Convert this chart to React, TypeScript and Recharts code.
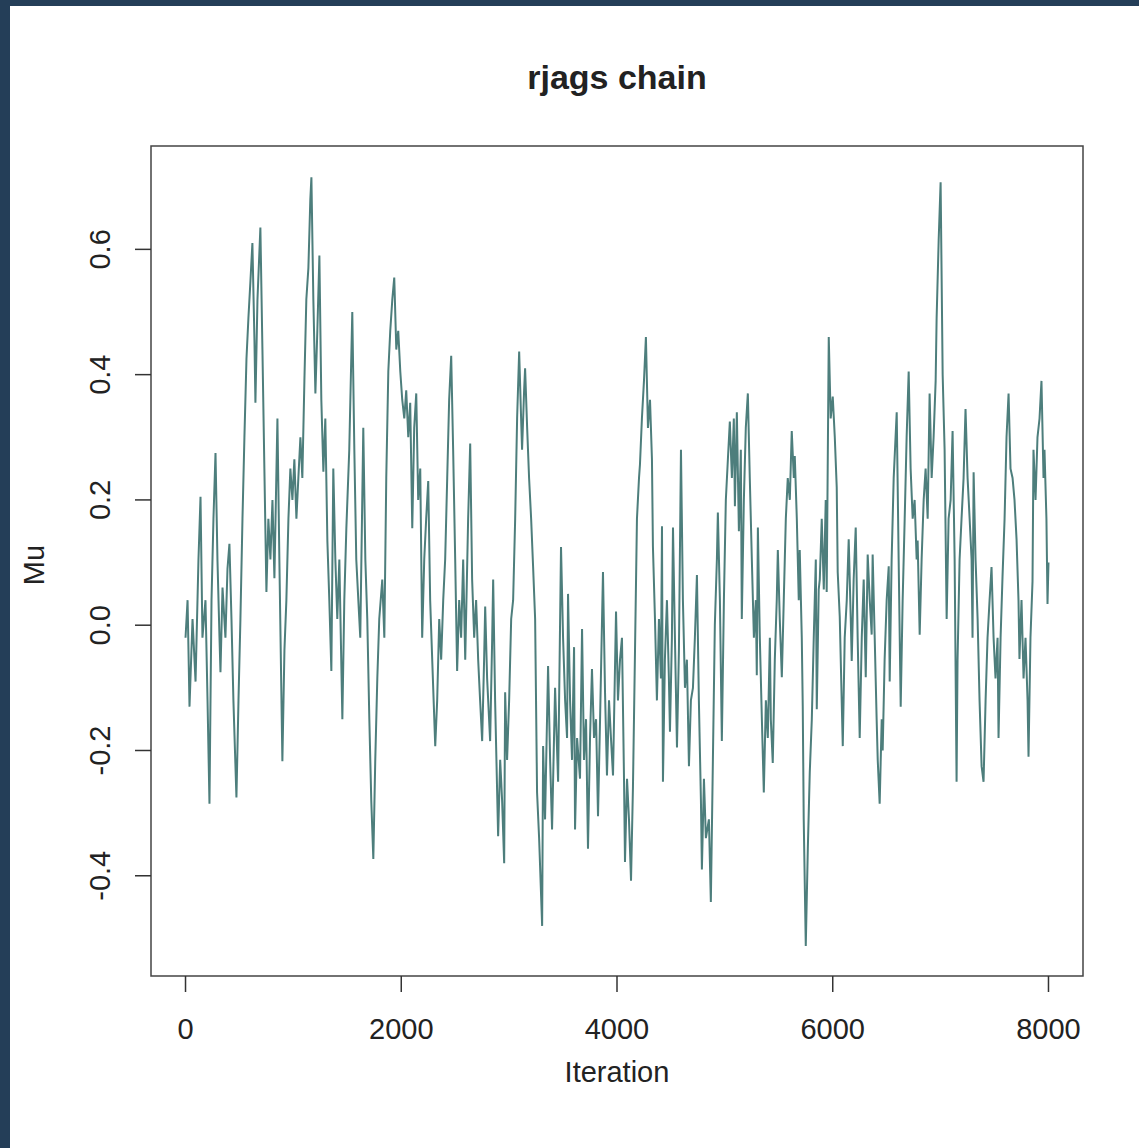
import { LineChart, Line, XAxis, YAxis, ReferenceArea } from 'recharts';

// MCMC trace of Mu as [iteration, value]
const chartTitle = 'rjags chain';

const trace0to2000: [number, number][] = [
  [0, -0.02], [19, 0.04], [37, -0.13], [65, 0.01], [93, -0.09], [120, 0.105], [139, 0.205], [157, -0.02],
  [185, 0.04], [204, -0.12], [222, -0.285], [241, 0.04], [259, 0.17], [278, 0.275], [296, 0.105], [315, -0.02],
  [324, -0.075], [343, 0.06], [370, -0.02], [389, 0.09], [407, 0.13], [426, 0.01], [444, -0.12], [472, -0.275],
  [491, -0.12], [509, 0.01], [528, 0.17], [546, 0.3], [565, 0.425], [583, 0.49], [602, 0.55], [620, 0.61],
  [639, 0.455], [648, 0.355], [667, 0.52], [694, 0.635], [713, 0.44], [731, 0.25], [750, 0.053], [768, 0.17],
  [787, 0.105], [806, 0.2], [824, 0.075], [852, 0.33], [870, 0.105], [898, -0.217], [917, -0.04], [935, 0.04],
  [954, 0.17], [972, 0.25], [991, 0.2], [1009, 0.265], [1028, 0.17], [1046, 0.235], [1065, 0.3], [1083, 0.235],
  [1102, 0.39], [1120, 0.52], [1139, 0.57], [1157, 0.68], [1167, 0.715], [1185, 0.52], [1204, 0.37], [1222, 0.47],
  [1241, 0.59], [1259, 0.36], [1278, 0.245], [1296, 0.33], [1315, 0.135], [1333, 0.04], [1352, -0.073], [1370, 0.25],
  [1389, 0.105], [1407, 0.01], [1426, 0.105], [1454, -0.15], [1472, 0.04], [1491, 0.155], [1518, 0.28], [1546, 0.5],
  [1565, 0.28], [1583, 0.105], [1602, 0.04], [1620, -0.02], [1648, 0.315], [1667, 0.105], [1685, 0.01], [1704, -0.15],
  [1722, -0.28], [1741, -0.373], [1759, -0.215], [1778, -0.085], [1796, 0.01], [1824, 0.073], [1843, -0.02], [1861, 0.235],
  [1880, 0.405], [1898, 0.47], [1917, 0.52], [1935, 0.555], [1954, 0.44], [1972, 0.47], [1991, 0.405],
];

const trace2000to4000: [number, number][] = [
  [2009, 0.36], [2028, 0.33], [2046, 0.375], [2065, 0.3], [2083, 0.355], [2102, 0.155], [2120, 0.315], [2139, 0.37],
  [2157, 0.2], [2176, 0.25], [2194, -0.02], [2213, 0.105], [2231, 0.17], [2250, 0.23], [2268, 0.04], [2287, -0.055],
  [2315, -0.193], [2333, -0.12], [2352, 0.01], [2370, -0.055], [2389, 0.04], [2407, 0.105], [2426, 0.235], [2444, 0.36],
  [2463, 0.43], [2481, 0.28], [2500, 0.105], [2518, -0.073], [2537, 0.04], [2555, -0.02], [2574, 0.105], [2593, -0.055],
  [2620, 0.17], [2639, 0.29], [2657, 0.073], [2676, -0.02], [2694, 0.04], [2713, -0.055], [2731, -0.12], [2750, -0.185],
  [2768, -0.055], [2778, 0.03], [2796, -0.085], [2824, -0.185], [2843, -0.02], [2852, 0.073], [2870, -0.12], [2898, -0.337],
  [2917, -0.215], [2935, -0.28], [2954, -0.38], [2963, -0.107], [2981, -0.215], [3000, -0.12], [3019, 0.01], [3037, 0.04],
  [3056, 0.17], [3074, 0.33], [3093, 0.437], [3111, 0.33], [3120, 0.28], [3139, 0.375], [3148, 0.41], [3167, 0.315],
  [3185, 0.235], [3204, 0.17], [3222, 0.094], [3241, 0.01], [3259, -0.267], [3278, -0.34], [3306, -0.48], [3315, -0.193],
  [3333, -0.31], [3361, -0.065], [3380, -0.215], [3398, -0.326], [3426, -0.1], [3454, -0.25], [3481, 0.125], [3500, -0.02],
  [3519, -0.12], [3537, -0.18], [3546, 0.05], [3565, -0.12], [3583, -0.215], [3602, -0.035], [3611, -0.326], [3630, -0.18],
  [3657, -0.245], [3676, -0.006], [3694, -0.215], [3713, -0.15], [3731, -0.357], [3750, -0.18], [3768, -0.07], [3787, -0.18],
  [3806, -0.15], [3824, -0.305], [3843, -0.15], [3870, 0.085], [3889, -0.107], [3907, -0.24], [3926, -0.12], [3944, -0.18],
  [3963, -0.24], [3991, 0.022],
];

const trace4000to6000: [number, number][] = [
  [4009, -0.12], [4028, -0.055], [4046, -0.02], [4065, -0.245], [4074, -0.378], [4093, -0.245], [4111, -0.31], [4130, -0.408],
  [4148, -0.257], [4167, -0.04], [4185, 0.17], [4204, 0.235], [4213, 0.257], [4231, 0.33], [4250, 0.39], [4268, 0.46],
  [4287, 0.315], [4306, 0.36], [4324, 0.265], [4333, 0.126], [4352, 0.01], [4370, -0.12], [4389, 0.01], [4407, -0.085],
  [4417, 0.158], [4426, -0.25], [4444, -0.055], [4463, 0.04], [4481, -0.085], [4491, -0.17], [4509, -0.02], [4519, 0.156],
  [4537, -0.02], [4556, -0.195], [4574, -0.04], [4593, 0.28], [4611, 0.04], [4630, -0.1], [4648, -0.055], [4667, -0.225],
  [4685, -0.12], [4704, -0.1], [4722, -0.02], [4741, 0.08], [4759, -0.12], [4778, -0.28], [4787, -0.39], [4806, -0.245],
  [4824, -0.34], [4852, -0.31], [4870, -0.442], [4889, -0.215], [4907, 0], [4926, 0.105], [4935, 0.18], [4954, 0.04],
  [4972, -0.185], [4991, 0.04], [5009, 0.2], [5028, 0.265], [5046, 0.325], [5065, 0.235], [5083, 0.33], [5093, 0.19],
  [5111, 0.34], [5130, 0.15], [5148, 0.28], [5157, 0.01], [5176, 0.2], [5194, 0.315], [5213, 0.37], [5231, 0.235],
  [5250, 0.105], [5269, -0.02], [5287, 0.04], [5296, -0.08], [5306, 0.156], [5324, -0.02], [5343, -0.15], [5361, -0.267],
  [5380, -0.12], [5398, -0.18], [5417, -0.02], [5426, -0.15], [5444, -0.22], [5463, -0.055], [5481, 0.04], [5491, 0.12],
  [5509, 0.01], [5528, -0.083], [5546, 0.04], [5565, 0.17], [5583, 0.235], [5602, 0.2], [5620, 0.31], [5639, 0.235],
  [5648, 0.27], [5667, 0.17], [5685, 0.04], [5694, 0.12], [5713, -0.02], [5722, -0.13], [5731, -0.31], [5750, -0.512],
  [5769, -0.357], [5787, -0.235], [5806, -0.15], [5824, -0.02], [5843, 0.105], [5852, -0.134], [5870, 0.057], [5880, 0.073],
  [5898, 0.17], [5917, 0.057], [5935, 0.2], [5944, 0.053], [5963, 0.46], [5981, 0.33],
];

const trace6000to8000: [number, number][] = [
  [6000, 0.365], [6019, 0.3], [6037, 0.22], [6046, 0.085], [6065, 0.013], [6083, -0.12], [6093, -0.193], [6111, -0.02],
  [6130, 0.04], [6148, 0.137], [6167, 0.01], [6176, -0.057], [6194, 0.073], [6213, 0.156], [6231, -0.02], [6250, -0.18],
  [6269, -0.02], [6287, 0.073], [6306, -0.083], [6324, 0.113], [6343, 0.04], [6361, -0.015], [6370, 0.113], [6389, -0.02],
  [6407, -0.15], [6417, -0.215], [6435, -0.285], [6454, -0.15], [6463, -0.2], [6481, -0.055], [6500, 0.04], [6519, 0.094],
  [6528, -0.09], [6546, 0.105], [6565, 0.235], [6593, 0.34], [6611, 0.105], [6630, -0.13], [6648, 0.04], [6667, 0.17],
  [6685, 0.3], [6704, 0.405], [6722, 0.25], [6741, 0.17], [6759, 0.2], [6778, 0.105], [6787, 0.135], [6806, -0.015],
  [6824, 0.105], [6843, 0.2], [6861, 0.25], [6880, 0.17], [6898, 0.37], [6917, 0.235], [6935, 0.3], [6954, 0.39],
  [6963, 0.49], [6982, 0.615], [7000, 0.707], [7019, 0.4], [7037, 0.28], [7056, 0.01], [7074, 0.17], [7093, 0.2],
  [7111, 0.31], [7130, 0.105], [7148, -0.25], [7157, -0.055], [7176, 0.105], [7194, 0.17], [7213, 0.235], [7231, 0.345],
  [7250, 0.235], [7269, 0.17], [7287, 0.105], [7296, -0.02], [7306, 0.244], [7324, 0.105], [7343, 0.01], [7361, -0.12],
  [7380, -0.225], [7398, -0.25], [7417, -0.12], [7435, -0.02], [7454, 0.04], [7472, 0.093], [7491, -0.02], [7509, -0.085],
  [7528, -0.02], [7537, -0.18], [7556, -0.02], [7574, 0.078], [7593, 0.17], [7611, 0.3], [7630, 0.37], [7648, 0.25],
  [7667, 0.235], [7685, 0.2], [7704, 0.137], [7722, 0.04], [7731, -0.054], [7750, 0.04], [7769, -0.085], [7787, -0.02],
  [7806, -0.12], [7815, -0.21], [7833, -0.02], [7852, 0.07], [7861, 0.28], [7880, 0.2], [7898, 0.3], [7917, 0.33],
  [7935, 0.39], [7954, 0.235], [7963, 0.28], [7981, 0.17], [7991, 0.034], [8000, 0.1],
];

const xTicks = [0, 2000, 4000, 6000, 8000];
const yTicks = [-0.4, -0.2, 0, 0.2, 0.4, 0.6];

const data = [...trace0to2000, ...trace2000to4000, ...trace4000to6000, ...trace6000to8000].map(
  ([iteration, mu]) => ({ iteration, mu })
);

const FONT = '"Liberation Sans", Arial, Helvetica, sans-serif';
const INK = '#222';

const YTick = ({ x, y, payload }: any) => (
  <text
    x={x - 25}
    y={y}
    transform={`rotate(-90 ${x - 25} ${y})`}
    textAnchor="middle"
    fill={INK}
    fontSize={29}
    fontFamily={FONT}
  >
    {Number(payload.value).toFixed(1)}
  </text>
);

const MuLabel = ({ viewBox }: any) => {
  const cx = viewBox.x + 34;
  const cy = viewBox.y + viewBox.height / 2 + 4;
  return (
    <text
      x={cx}
      y={cy}
      transform={`rotate(-90 ${cx} ${cy})`}
      textAnchor="middle"
      dominantBaseline="central"
      fill={INK}
      fontSize={29}
      fontFamily={FONT}
    >
      Mu
    </text>
  );
};

export default function App() {
  return (
    <div
      style={{
        position: 'absolute',
        left: 0,
        top: 0,
        width: 1139,
        height: 1148,
        background: '#fff',
        overflow: 'hidden',
        fontFamily: FONT,
      }}
    >
      <div style={{ position: 'absolute', left: 0, top: 0, width: 10, height: 1148, background: '#243e58' }} />
      <div style={{ position: 'absolute', left: 0, top: 0, width: 1139, height: 6, background: '#243e58' }} />
      <div
        style={{
          position: 'absolute',
          left: 151,
          width: 932,
          top: 58,
          textAlign: 'center',
          fontSize: 34,
          fontWeight: 'bold',
          color: INK,
        }}
      >
        {chartTitle}
      </div>
      <LineChart
        width={1139}
        height={1148}
        data={data}
        margin={{ top: 146, right: 56, left: 0, bottom: 0 }}
        style={{ position: 'absolute', left: 0, top: 0 }}
      >
        <XAxis
          type="number"
          dataKey="iteration"
          domain={[-320, 8320]}
          ticks={xTicks}
          height={172}
          axisLine={false}
          tickLine={{ stroke: '#333', strokeWidth: 1.5 }}
          tickSize={16}
          tickMargin={26}
          tick={{ fill: INK, fontSize: 29, fontFamily: FONT }}
          label={{ value: 'Iteration', position: 'insideBottom', offset: 66, fill: INK, fontSize: 29, fontFamily: FONT }}
        />
        <YAxis
          type="number"
          domain={[-0.56, 0.765]}
          ticks={yTicks}
          width={151}
          axisLine={false}
          tickLine={{ stroke: '#333', strokeWidth: 1.5 }}
          tickSize={16}
          tickMargin={0}
          tick={<YTick />}
          label={<MuLabel />}
        />
        <Line
          type="linear"
          dataKey="mu"
          stroke="#4d7e7c"
          strokeWidth={2}
          dot={false}
          isAnimationActive={false}
        />
        <ReferenceArea
          x1={-320}
          x2={8320}
          y1={-0.56}
          y2={0.765}
          fill="none"
          stroke="#444"
          strokeWidth={1.5}
        />
      </LineChart>
    </div>
  );
}
